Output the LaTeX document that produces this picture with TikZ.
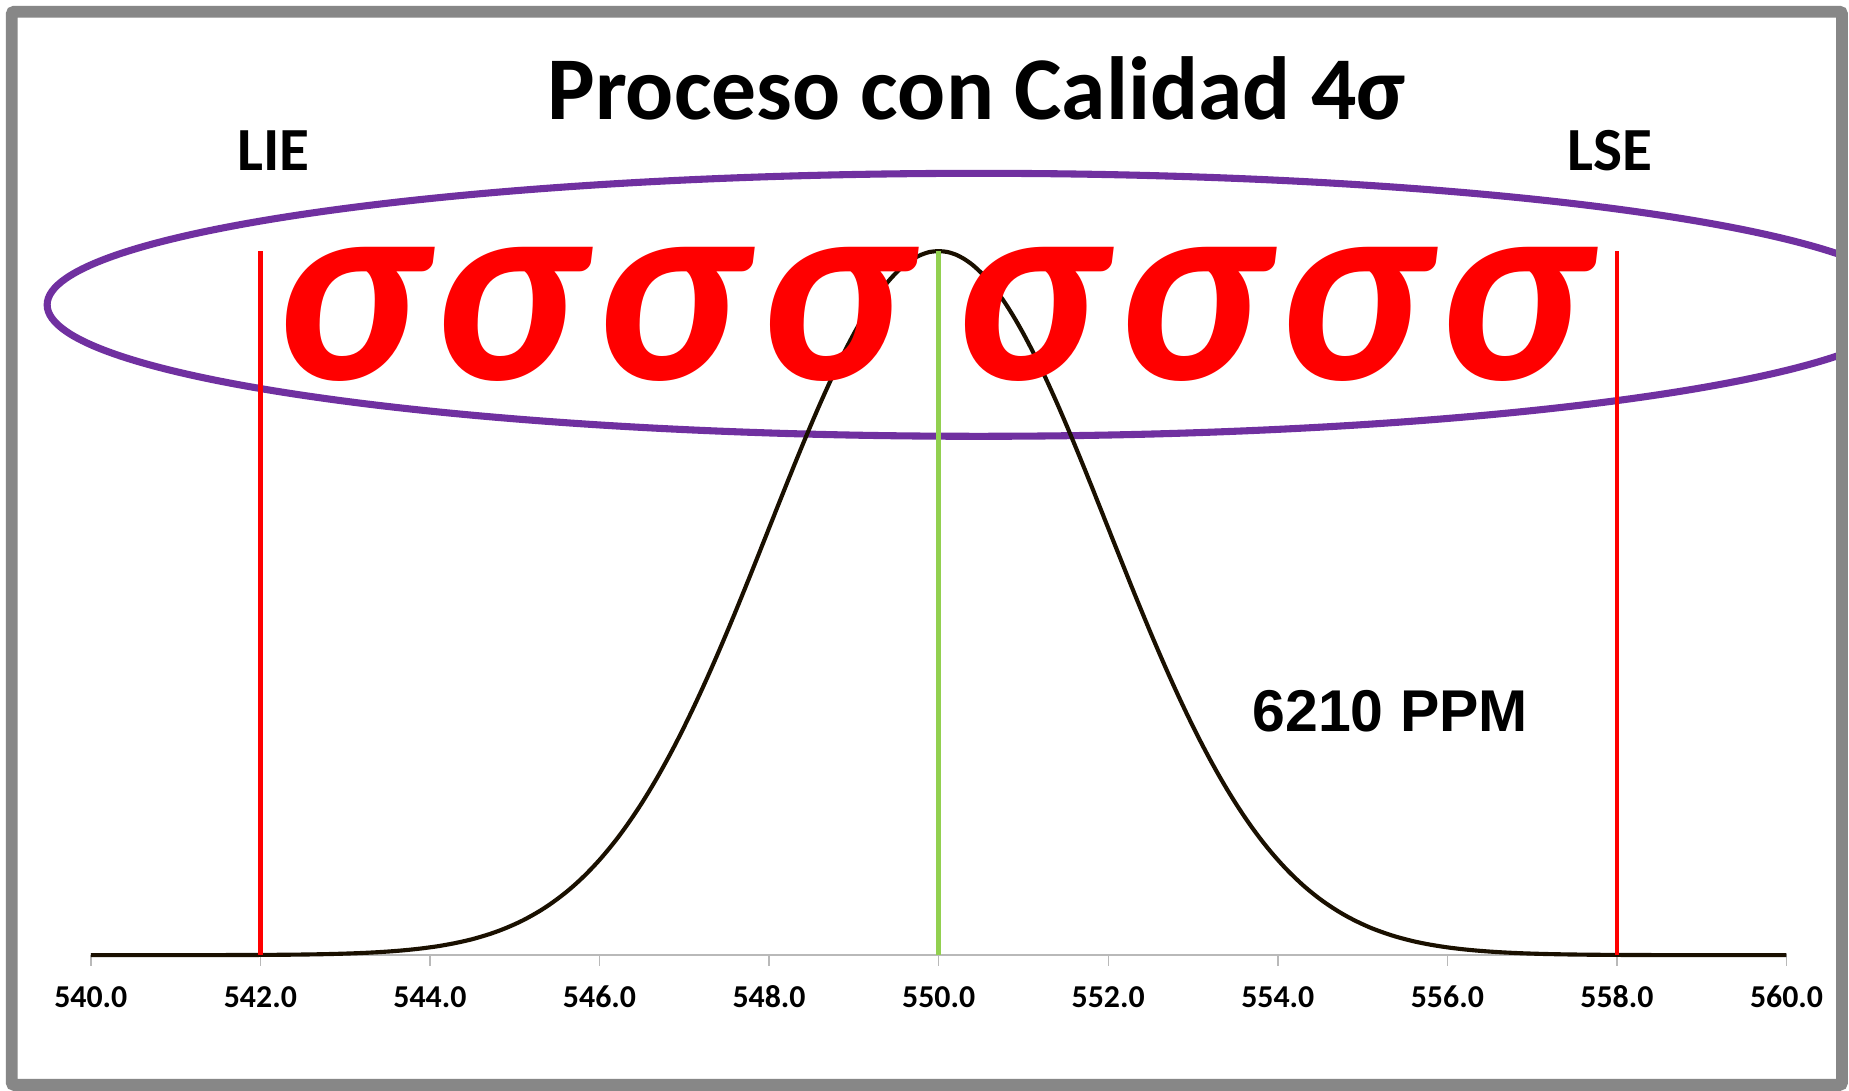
\documentclass[tikz,border=0pt]{standalone}
\usepackage{fontspec}
\setmainfont{Carlito}
\newfontfamily\ppmfont{Liberation Sans}
\definecolor{framegray}{HTML}{878787}
\definecolor{ovalpurple}{HTML}{7030A0}
\definecolor{meangreen}{HTML}{92D050}
\definecolor{curvebrown}{HTML}{1A1000}

\begin{document}
\begin{tikzpicture}[x=1pt,y=1pt]
				\tikzset{limline/.style={red,line width=4pt},
					ticklabel/.style={font=\fontsize{27}{27}\selectfont\bfseries,anchor=base},
					sigma/.style={red,font=\fontsize{232}{232}\selectfont\bfseries\itshape,anchor=base,inner sep=0pt}}
				
				% Axis settings
				\def\xo{77}    % position of 540.0
				\def\du{71.9}  % width of one unit
				\def\ybase{115} % height of the axis
				\def\hpeak{597} % height of the peak
				
				\useasboundingbox (0,0) rectangle (1568,925);
				\fill[white] (0,0) rectangle (1568,925);
				
				% Purple oval (cut at the frame)
				\begin{scope}
					\clip (15,10) rectangle (1557,910);
					\draw[ovalpurple,line width=6pt] (830,666.5) ellipse [x radius=790, y radius=111.5];
				\end{scope}
				
				% Horizontal axis and ticks
				\draw[gray!55,line width=1.5pt] (\xo,\ybase) -- (\xo+20*\du,\ybase);
				\foreach \i in {0,...,10}
				{
					\pgfmathtruncatemacro\v{540+2*\i}
					\draw[gray!55,line width=1.2pt] (\xo+2*\i*\du,\ybase) -- (\xo+2*\i*\du,\ybase-9);
					\node[ticklabel] (t\v) at (\xo+2*\i*\du,71) {\v.0};
				}
				
				% Normal curve, mean 550, sigma 2
				\draw[curvebrown,line width=3.5pt] plot[domain=540:560,samples=201,smooth]
					({\xo+(\x-540)*\du},{\ybase+\hpeak*exp(-((\x-550)^2)/8)});
				
				% Specification limits and mean
				\coordinate (lielow) at (\xo+2*\du,\ybase);
				\coordinate (lietop) at (\xo+2*\du,712);
				\coordinate (lselow) at (\xo+18*\du,\ybase);
				\coordinate (lsetop) at (\xo+18*\du,712);
				\coordinate (meanlow) at (\xo+10*\du,\ybase);
				\coordinate (meantop) at (\xo+10*\du,712);
				\draw[limline] (lielow) -- (lietop);
				\draw[limline] (lselow) -- (lsetop);
				\draw[meangreen,line width=4.5pt] (meanlow) -- (meantop);
				
				% Sigmas
				\foreach \s [count=\k] in {297,431,568,707,873,1011,1147,1283}
				{
					\node[sigma] (s\k) at (\s,603) {σ};
				}
				
				% Labels
				\node[anchor=base,font=\fontsize{76}{76}\selectfont\bfseries] (title) at (828,824) {Proceso con Calidad 4σ};
				\node[anchor=base,font=\fontsize{52}{52}\selectfont\bfseries] (lie) at (232,780) {LIE};
				\node[anchor=base,font=\fontsize{52}{52}\selectfont\bfseries] (lse) at (1365,780) {LSE};
				\node[anchor=base,font=\fontsize{50}{50}\selectfont\ppmfont\bfseries] (ppm) at (1179,305) {6210 PPM};
				
				% Frame
				\draw[framegray,line width=10pt,rounded corners=2pt] (10,5) rectangle (1562,915);
				
			\end{tikzpicture}
\end{document}
